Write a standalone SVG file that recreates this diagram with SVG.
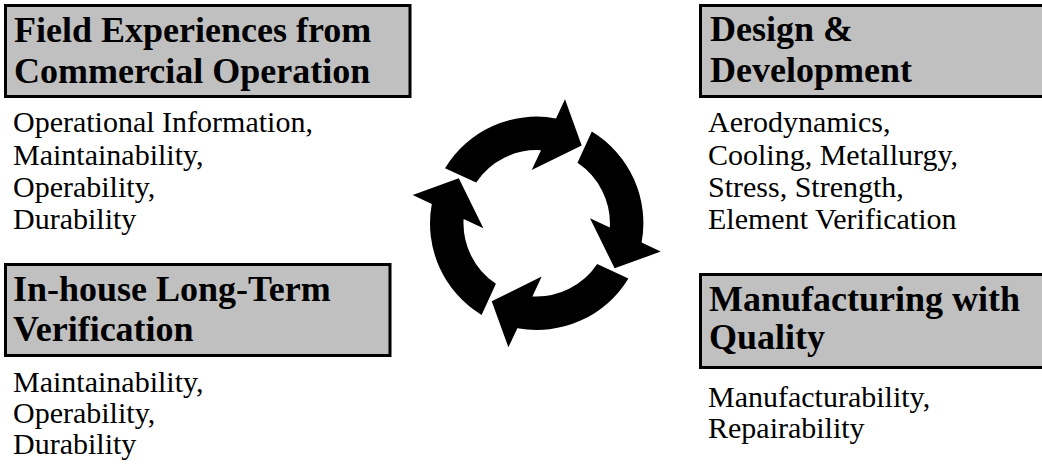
<svg xmlns="http://www.w3.org/2000/svg" width="1042" height="465" viewBox="0 0 1042 465">
  <style>
    .box { fill: #c0c0c0; stroke: #000; stroke-width: 3; }
    .title { font-family: "Liberation Serif", "Times New Roman", serif; font-weight: bold; font-size: 36px; fill: #000; }
    .body { font-family: "Liberation Serif", "Times New Roman", serif; font-size: 30px; fill: #000; }
    .arrow { fill: #000; }
  </style>
  <defs>
    <path id="cycArrow" class="arrow" d="M445,168.2 A107,107 0 0 1 556,118.4 L565,99.3 L581.7,145.4 L531.7,170 L541,150.2 A73,73 0 0 0 476.2,182.5 Z"/>
  </defs>
  <rect width="1042" height="465" fill="#fff"/>

  <g id="field">
    <rect class="box" x="5.5" y="5.5" width="404.5" height="91"/>
    <text class="title" x="14" y="41.5">Field Experiences from</text>
    <text class="title" x="14" y="83">Commercial Operation</text>
    <text class="body" x="13" y="132">Operational Information,</text>
    <text class="body" x="13" y="164.5">Maintainability,</text>
    <text class="body" x="13" y="196.5">Operability,</text>
    <text class="body" x="13" y="228.5">Durability</text>
  </g>

  <g id="design">
    <rect class="box" x="700.5" y="5.5" width="400" height="91"/>
    <text class="title" x="710" y="40.5">Design &amp;</text>
    <text class="title" x="710" y="82">Development</text>
    <text class="body" x="708" y="132">Aerodynamics,</text>
    <text class="body" x="708" y="164.5">Cooling, Metallurgy,</text>
    <text class="body" x="708" y="196.5">Stress, Strength,</text>
    <text class="body" x="708" y="228.5">Element Verification</text>
  </g>

  <g id="inhouse">
    <rect class="box" x="5.5" y="264.5" width="384.5" height="91"/>
    <text class="title" x="13" y="301">In-house Long-Term</text>
    <text class="title" x="13" y="340.5">Verification</text>
    <text class="body" x="13" y="391.5">Maintainability,</text>
    <text class="body" x="13" y="422.5">Operability,</text>
    <text class="body" x="13" y="453.5">Durability</text>
  </g>

  <g id="manufacturing">
    <rect class="box" x="700.5" y="274.5" width="400" height="93"/>
    <text class="title" x="709" y="310.5">Manufacturing with</text>
    <text class="title" x="709" y="349">Quality</text>
    <text class="body" x="708" y="406.5">Manufacturability,</text>
    <text class="body" x="708" y="438">Repairability</text>
  </g>

  <g id="connectors">
    <use href="#cycArrow"/>
    <use href="#cycArrow" transform="rotate(90 536.7 223.3)"/>
    <use href="#cycArrow" transform="rotate(180 536.7 223.3)"/>
    <use href="#cycArrow" transform="rotate(270 536.7 223.3)"/>
  </g>
</svg>
